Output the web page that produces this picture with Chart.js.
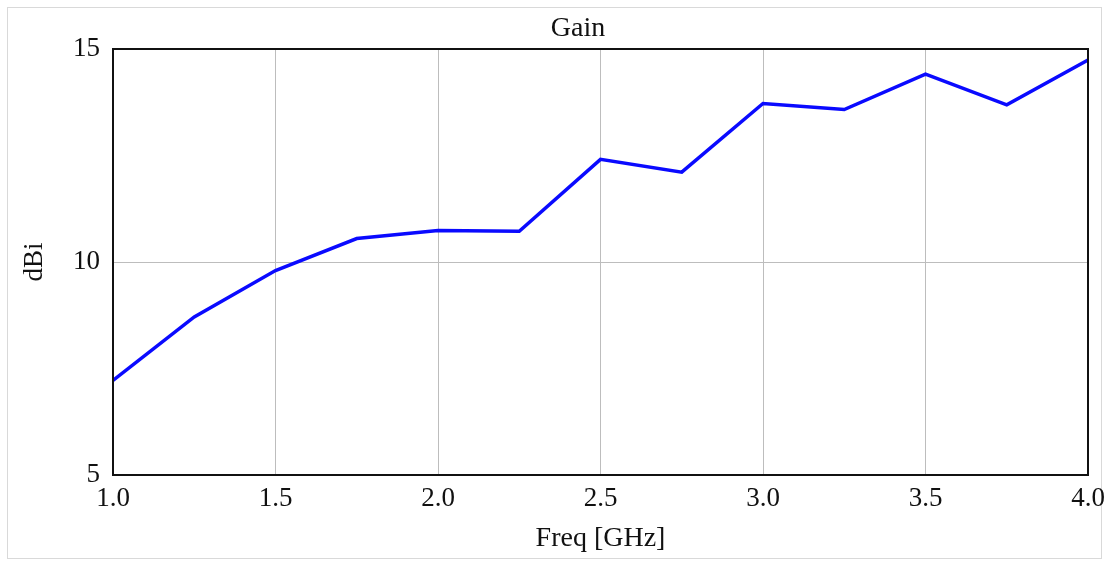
<!DOCTYPE html>
<html>
<head>
<meta charset="utf-8">
<script src="https://cdn.jsdelivr.net/npm/chart.js@4/dist/chart.umd.min.js"></script>
<style>
  html, body { margin: 0; padding: 0; background: #fff; }
  canvas { display: block; }
</style>
</head>
<body>
<canvas id="gainChart" width="1109" height="561"></canvas>
<script>
// frequency points (GHz) and gain (dBi)
const freqGHz = [1.0, 1.25, 1.5, 1.75, 2.0, 2.25, 2.5, 2.75, 3.0, 3.25, 3.5, 3.75, 4.0];
const gainDbi = [7.22, 8.71, 9.80, 10.55, 10.74, 10.72, 12.41, 12.11, 13.72, 13.58, 14.41, 13.69, 14.74];

const chartTitle = 'Gain';
const xTitle = 'Freq [GHz]';
const yTitle = 'dBi';
const xRange = [1.0, 4.0];
const yRange = [5, 15];

const serif = "'Liberation Serif', 'Times New Roman', serif";

// outer frame, black plot box and the title text
const framePlugin = {
  id: 'frame',
  beforeDraw(chart) {
    const c = chart.ctx;
    c.save();
    c.fillStyle = '#fff';
    c.fillRect(0, 0, chart.width, chart.height);
    c.strokeStyle = '#d9d9d9';
    c.lineWidth = 1;
    c.strokeRect(7.5, 7.5, chart.width - 15, chart.height - 10);
    c.restore();
  },
  afterDraw(chart) {
    const c = chart.ctx;
    const a = chart.chartArea;
    c.save();
    c.strokeStyle = '#111';
    c.lineWidth = 2;
    c.strokeRect(a.left, a.top, a.right - a.left, a.bottom - a.top);
    c.fillStyle = '#111';
    c.font = '28px ' + serif;
    c.textAlign = 'center';
    c.textBaseline = 'middle';
    c.fillText(chartTitle, 578, 29);
    c.restore();
  }
};

const ctx = document.getElementById('gainChart').getContext('2d');
const gainChart = new Chart(ctx, {
  type: 'line',
  data: {
    datasets: [{
      label: chartTitle,
      data: freqGHz.map((f, i) => ({ x: f, y: gainDbi[i] })),
      borderColor: '#0a0aff',
      borderWidth: 3.5,
      pointRadius: 0,
      tension: 0,
      fill: false
    }]
  },
  options: {
    responsive: false,
    animation: false,
    layout: { padding: { left: 0, top: 49, right: 21, bottom: 0 } },
    plugins: {
      legend: { display: false },
      title: { display: false },
      tooltip: { enabled: false }
    },
    scales: {
      x: {
        type: 'linear',
        min: xRange[0],
        max: xRange[1],
        ticks: {
          stepSize: 0.5,
          padding: 8,
          color: '#111',
          font: { family: serif, size: 27 },
          callback: v => v.toFixed(1)
        },
        grid: { color: '#bdbdbd', lineWidth: 1, drawTicks: false },
        border: { display: false },
        title: {
          display: true,
          text: xTitle,
          color: '#111',
          font: { family: serif, size: 28 },
          padding: { top: 0, bottom: 6 }
        },
        afterFit(scale) {
          scale.height = 86;
          scale.paddingRight = 0;
        }
      },
      y: {
        min: yRange[0],
        max: yRange[1],
        ticks: {
          stepSize: 5,
          padding: 13,
          color: '#111',
          font: { family: serif, size: 27 }
        },
        grid: { color: '#bdbdbd', lineWidth: 1, drawTicks: false },
        border: { display: false },
        title: {
          display: true,
          text: yTitle,
          color: '#111',
          font: { family: serif, size: 27 },
          padding: { top: 19, bottom: 0 }
        },
        afterFit(scale) { scale.width = 113; }
      }
    }
  },
  plugins: [framePlugin]
});
</script>
</body>
</html>
